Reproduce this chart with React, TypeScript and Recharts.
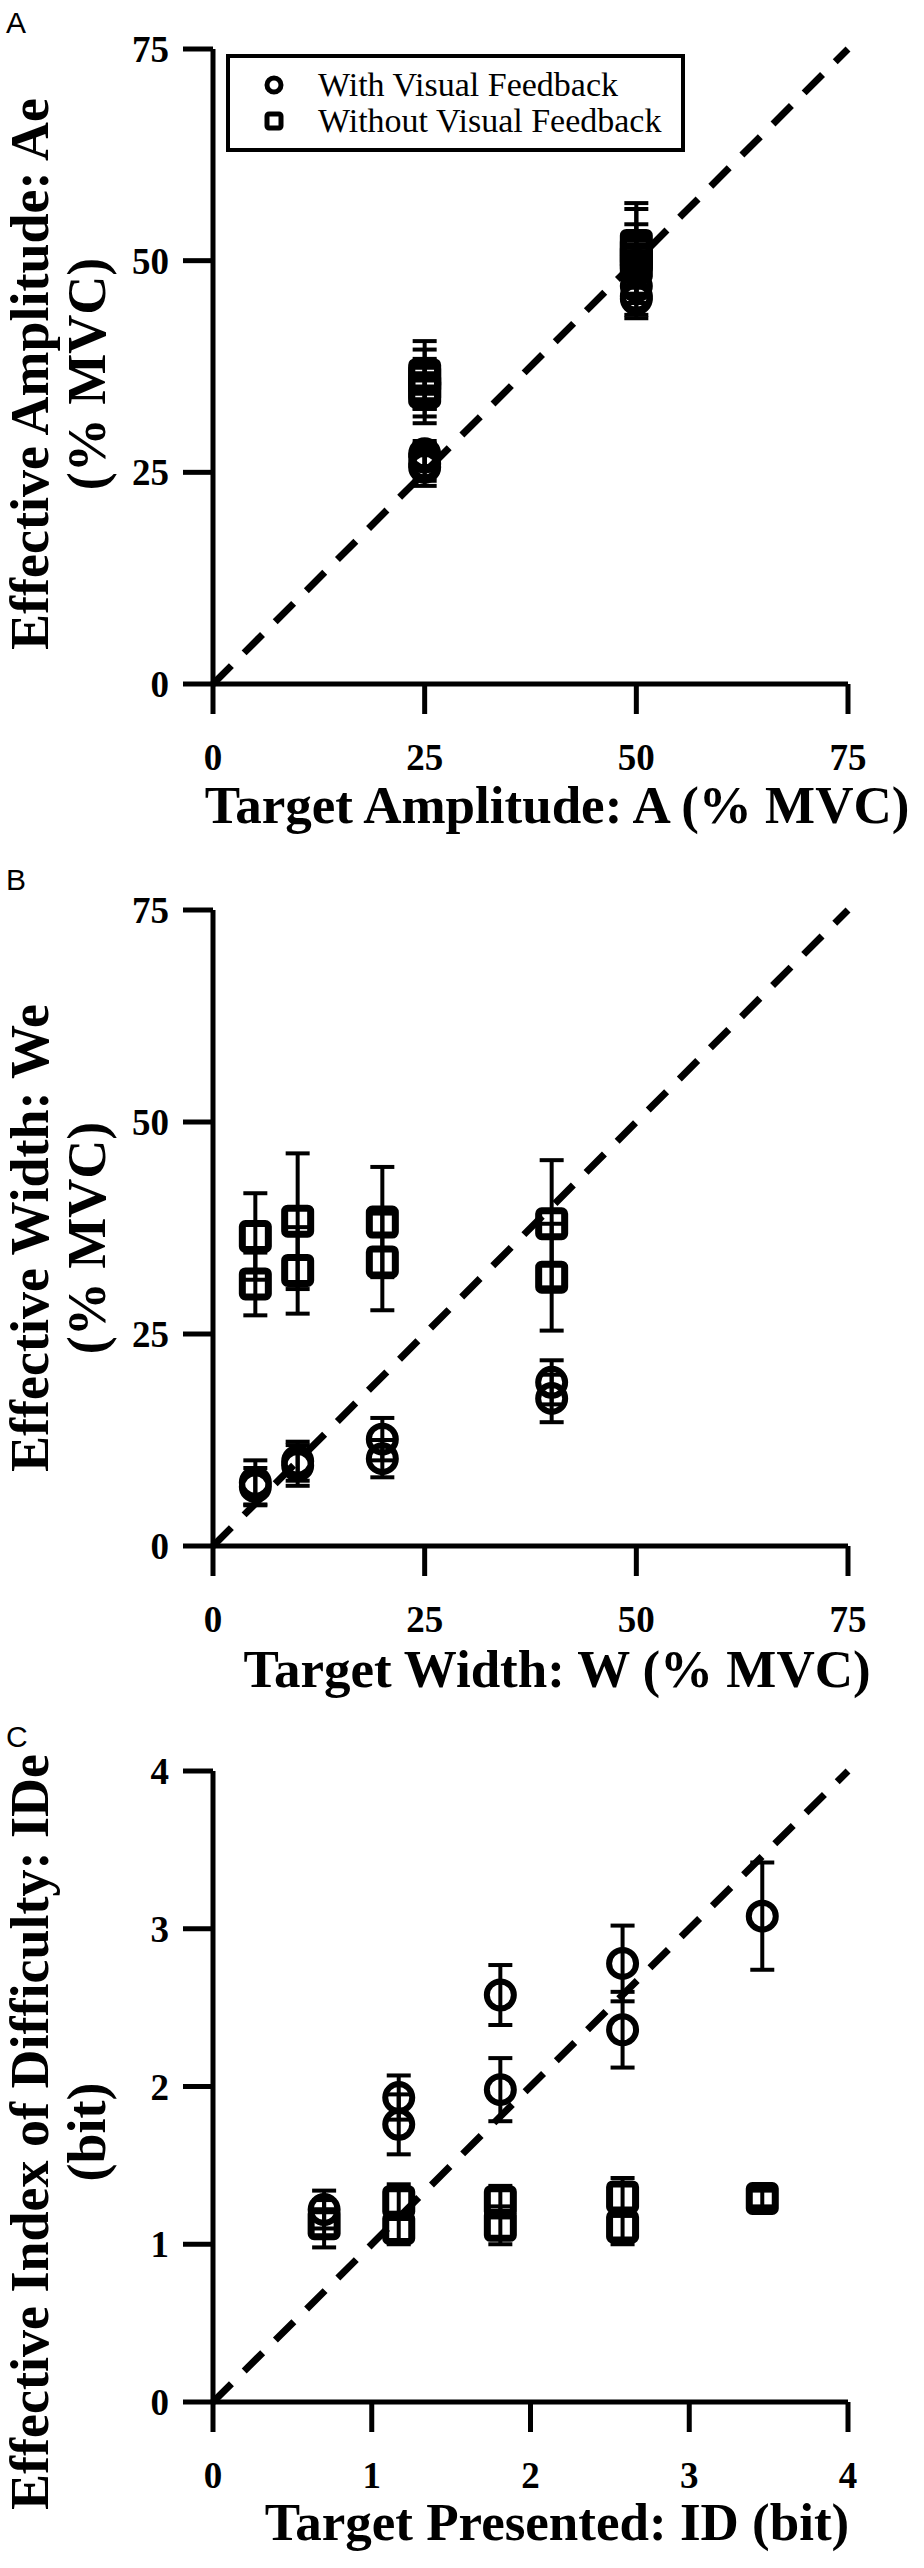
import React from "react";
import { ScatterChart, Scatter, XAxis, YAxis, ErrorBar, ReferenceLine, Legend } from "recharts";

// Panel A: target amplitude (% MVC)
const ampTicks = [0, 25, 50, 75];
const ampTargets = [25, 25, 25, 25, 50, 50, 50, 50];
const ampWithVF = [27.2, 26.8, 26.0, 25.6, 49.5, 47.0, 45.8, 45.5];
const ampWithVFErr = [1.5, 1.6, 2.0, 2.2, 2.0, 2.0, 2.2, 2.3];
const ampWithoutVF = [36.5, 36.0, 35.0, 34.5, 51.8, 51.0, 50.2, 49.3];
const ampWithoutVFErr = [4.0, 3.5, 3.4, 3.7, 5.0, 5.1, 4.1, 3.5];

// Panel B: target width (% MVC)
const widthTicks = [0, 25, 50, 75];
const widthTargets = [5, 5, 10, 10, 20, 20, 40, 40];
const widthWithVF = [7.5, 7.0, 10.0, 9.5, 12.6, 10.3, 19.3, 17.4];
const widthWithVFErr = [2.6, 2.2, 2.3, 2.4, 2.5, 2.2, 2.6, 2.8];
const widthWithoutVF = [36.5, 30.9, 38.3, 32.5, 38.2, 33.5, 38.0, 31.7];
const widthWithoutVFErr = [5.1, 3.7, 8.0, 5.1, 6.5, 5.7, 7.5, 6.3];

// Panel C: index of difficulty (bit)
const idTicks = [0, 1, 2, 3, 4];
const idTargets = [0.7, 1.17, 1.17, 1.81, 1.81, 2.58, 2.58, 3.46];
const idWithVF = [1.22, 1.93, 1.76, 2.58, 1.98, 2.78, 2.36, 3.08];
const idWithVFErr = [0.12, 0.14, 0.19, 0.19, 0.2, 0.24, 0.24, 0.34];
const idWithoutVF = [1.13, 1.27, 1.1, 1.27, 1.12, 1.3, 1.11, 1.29];
const idWithoutVFErr = [0.15, 0.11, 0.1, 0.1, 0.12, 0.12, 0.11, 0.05];

const legendLabels = ["With Visual Feedback", "Without Visual Feedback"];

const serif = '"Liberation Serif", "Times New Roman", serif';
const sans = '"Liberation Sans", Arial, sans-serif';

const toPoints = (xs: number[], ys: number[], errs: number[]) =>
  xs.map((x, i) => ({ x, y: ys[i], err: errs[i] }));

const CircleMark = (props: any) => {
  const { cx, cy } = props;
  if (cx == null || cy == null) return <g />;
  return <circle cx={cx} cy={cy} r={13.5} fill="none" stroke="#000" strokeWidth={6} />;
};

const SquareMark = (props: any) => {
  const { cx, cy } = props;
  if (cx == null || cy == null) return <g />;
  return (
    <rect x={cx - 13} y={cy - 13} width={26} height={26} rx={3} fill="none" stroke="#000" strokeWidth={7} />
  );
};

const XTick = (props: any) => (
  <text x={props.x} y={props.y + 56} textAnchor="middle" fontFamily={serif} fontWeight="bold" fontSize={37} fill="#000">
    {props.payload.value}
  </text>
);

const YTick = (props: any) => (
  <text x={props.x - 14} y={props.y + 13} textAnchor="end" fontFamily={serif} fontWeight="bold" fontSize={37} fill="#000">
    {props.payload.value}
  </text>
);

const LegendBox = () => (
  <div
    style={{
      position: "relative",
      width: 459,
      height: 98,
      border: "4px solid #000",
      boxSizing: "border-box",
      fontFamily: serif,
      fontSize: 34,
      background: "#fff",
    }}
  >
    {legendLabels.map((label, i) => (
      <div key={label} style={{ position: "absolute", left: 0, top: 9 + i * 36, height: 36, display: "flex", alignItems: "center" }}>
        <svg width={22} height={22} style={{ marginLeft: 33 }}>
          {i === 0 ? (
            <circle cx={11} cy={11} r={7} fill="none" stroke="#000" strokeWidth={5} />
          ) : (
            <rect x={4} y={4} width={14} height={14} rx={2} fill="none" stroke="#000" strokeWidth={5} />
          )}
        </svg>
        <span style={{ marginLeft: 33, lineHeight: "36px", whiteSpace: "nowrap" }}>{label}</span>
      </div>
    ))}
  </div>
);

interface PanelProps {
  letter: string;
  letterTop: number;
  height: number;
  plotHeight: number;
  ticks: number[];
  max: number;
  withData: { x: number; y: number; err: number }[];
  withoutData: { x: number; y: number; err: number }[];
  xTitle: string;
  xTitleY: number;
  yTitle: string[];
  yTitleY: number;
  legend?: boolean;
}

function Panel(p: PanelProps) {
  const top = 49;
  const axisStyle = { stroke: "#000", strokeWidth: 5 };
  return (
    <div style={{ position: "relative", width: 924, height: p.height }}>
      <div style={{ position: "absolute", left: 6, top: p.letterTop, fontFamily: sans, fontSize: 30, lineHeight: "30px", zIndex: 2 }}>
        {p.letter}
      </div>
      <ScatterChart width={924} height={p.height} margin={{ top, right: 76, bottom: 0, left: 0 }}>
        <XAxis
          type="number"
          dataKey="x"
          domain={[0, p.max]}
          ticks={p.ticks}
          interval={0}
          height={p.height - top - p.plotHeight}
          tickSize={30}
          tickMargin={0}
          axisLine={axisStyle}
          tickLine={axisStyle}
          tick={XTick}
          label={() => (
            <text x={557} y={p.xTitleY} textAnchor="middle" fontFamily={serif} fontWeight="bold" fontSize={53} fill="#000">
              {p.xTitle}
            </text>
          )}
        />
        <YAxis
          type="number"
          dataKey="y"
          domain={[0, p.max]}
          ticks={p.ticks}
          interval={0}
          width={213}
          tickSize={30}
          tickMargin={0}
          axisLine={axisStyle}
          tickLine={axisStyle}
          tick={YTick}
          label={() => (
            <g fontFamily={serif} fontWeight="bold" fontSize={54} fill="#000">
              <text transform={`rotate(-90 48 ${p.yTitleY})`} x={48} y={p.yTitleY} textAnchor="middle">
                {p.yTitle[0]}
              </text>
              <text transform={`rotate(-90 105 ${p.yTitleY})`} x={105} y={p.yTitleY} textAnchor="middle">
                {p.yTitle[1]}
              </text>
            </g>
          )}
        />
        <ReferenceLine
          segment={[
            { x: 0, y: 0 },
            { x: p.max, y: p.max },
          ]}
          stroke="#000"
          strokeWidth={7}
          strokeDasharray="26 18"
        />
        <Scatter name={legendLabels[0]} data={p.withData} shape={CircleMark} isAnimationActive={false}>
          <ErrorBar dataKey="err" direction="y" width={12} strokeWidth={4} stroke="#000" isAnimationActive={false} />
        </Scatter>
        <Scatter name={legendLabels[1]} data={p.withoutData} shape={SquareMark} isAnimationActive={false}>
          <ErrorBar dataKey="err" direction="y" width={12} strokeWidth={4} stroke="#000" isAnimationActive={false} />
        </Scatter>
        {p.legend && (
          <Legend
            layout="horizontal"
            verticalAlign="middle"
            align="center"
            content={() => <LegendBox />}
            wrapperStyle={{ left: 226, top: 54, width: 459, height: 98 }}
          />
        )}
      </ScatterChart>
    </div>
  );
}

export default function App() {
  return (
    <div style={{ width: 924, background: "#fff" }}>
      <style>{`body{margin:0;background:#fff}`}</style>
      <Panel
        letter="A"
        letterTop={8}
        height={861}
        plotHeight={635}
        ticks={ampTicks}
        max={75}
        withData={toPoints(ampTargets, ampWithVF, ampWithVFErr)}
        withoutData={toPoints(ampTargets, ampWithoutVF, ampWithoutVFErr)}
        xTitle="Target Amplitude: A (% MVC)"
        xTitleY={823}
        yTitle={["Effective Amplitude: Ae", "(% MVC)"]}
        yTitleY={374}
        legend
      />
      <Panel
        letter="B"
        letterTop={4}
        height={861}
        plotHeight={636}
        ticks={widthTicks}
        max={75}
        withData={toPoints(widthTargets, widthWithVF, widthWithVFErr)}
        withoutData={toPoints(widthTargets, widthWithoutVF, widthWithoutVFErr)}
        xTitle="Target Width: W (% MVC)"
        xTitleY={826}
        yTitle={["Effective Width: We", "(% MVC)"]}
        yTitleY={377}
      />
      <Panel
        letter="C"
        letterTop={0}
        height={846}
        plotHeight={631}
        ticks={idTicks}
        max={4}
        withData={toPoints(idTargets, idWithVF, idWithVFErr)}
        withoutData={toPoints(idTargets, idWithoutVF, idWithoutVFErr)}
        xTitle="Target Presented: ID (bit)"
        xTitleY={818}
        yTitle={["Effective Index of Difficulty: IDe", "(bit)"]}
        yTitleY={410}
      />
    </div>
  );
}
